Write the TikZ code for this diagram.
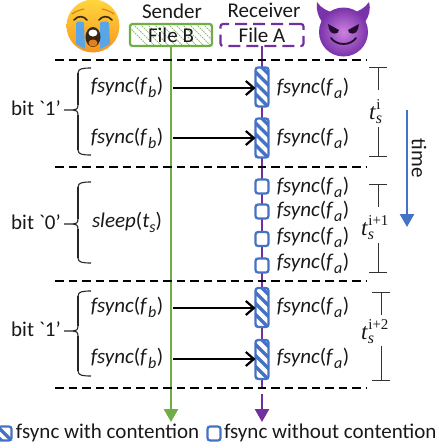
\documentclass[tikz,border=0pt]{standalone}
\usepackage{fontspec}
\setmainfont{Carlito}
\newfontfamily\mathish{Liberation Serif}
\newfontfamily\plainf{Carlito}
\usetikzlibrary{arrows.meta}
\definecolor{gr}{RGB}{112,173,71}
\definecolor{pu}{RGB}{112,48,160}
\definecolor{bl}{RGB}{68,114,196}
\definecolor{tear}{RGB}{88,165,232}
\definecolor{faceT}{RGB}{255,214,60}
\definecolor{faceB}{RGB}{248,150,30}
\definecolor{devil}{RGB}{122,50,170}
\definecolor{devilL}{RGB}{205,130,225}
\newcommand{\sbs}[1]{\raisebox{-0.25em}{\fontsize{16}{16}\selectfont\textit{#1}}}
\newcommand{\fs}[1]{\textit{fsync}(\textit{f}\kern0.5pt\sbs{#1}\kern0.5pt)}
\newcommand{\ts}[1]{{\fontsize{23}{25}\selectfont\mathish\textit{t}}\rlap{\raisebox{-4pt}{\fontsize{16}{16}\selectfont\mathish\textit{s}}}\raisebox{10pt}{\fontsize{15}{15}\selectfont\mathish\kern0.5pt #1}}
\newcommand{\lbrc}[3]{%
  \draw[line width=1.1pt,black!85] (91,#1) .. controls (83,#1) and (78,#1+0.5) .. (78,#1+5);
  \draw[line width=1.1pt,black!85] (78,#1+5) -- (78,#3-5);
  \draw[line width=1.1pt,black!85] (78,#3-5) .. controls (78,#3-1) and (76,#3) .. (73,#3) -- (64,#3);
  \draw[line width=1.1pt,black!85] (73,#3) .. controls (76,#3) and (78,#3+1) .. (78,#3+5);
  \draw[line width=1.1pt,black!85] (78,#3+5) -- (78,#2-5);
  \draw[line width=1.1pt,black!85] (78,#2-5) .. controls (78,#2-0.5) and (83,#2) .. (91,#2);}
\newcommand{\tbar}[5]{\draw[line width=1pt,black!80] (#1-9,#2) -- (#1+9,#2) (#1,#2) -- (#1,#3) (#1,#4) -- (#1,#5) (#1-9,#5) -- (#1+9,#5);}
\tikzset{
  x=1pt,y=-1pt,
  every node/.style={inner sep=0pt,outer sep=0pt,font=\fontsize{21}{23}\selectfont,text=black!90},
  sep line/.style={line width=1.4pt,black,dash pattern=on 8.5pt off 5pt},
  green line/.style={line width=2.6pt,gr},
  purple line/.style={line width=2.6pt,pu},
  call/.style={line width=2.2pt,black,-{Straight Barb[length=8pt,width=14pt,line width=2.2pt]}},
  plainbox/.style={draw=bl,line width=2.2pt,fill=white,rounded corners=2.5pt,minimum width=13pt,minimum height=14pt},
  hatchbox/.style={draw=bl,line width=2.2pt,fill=white,rounded corners=2.5pt,minimum width=13pt,minimum height=39pt,
    path picture={\foreach \k in {-40,-29,...,50}{\draw[bl,line width=3.2pt] ([yshift=\k pt]path picture bounding box.west) ++(-12,-12) -- ++(40,40);}}},
  hatchsmall/.style={draw=bl,line width=2.2pt,fill=white,rounded corners=2.5pt,minimum width=13pt,minimum height=14pt,
    path picture={\foreach \k in {-14,-4,6}{\draw[bl,line width=3.2pt] ([yshift=\k pt]path picture bounding box.west) ++(-8,-8) -- ++(30,30);}}},
}
\begin{document}
\begin{tikzpicture}
\useasboundingbox (0,0) rectangle (439,448);
% crying face
\shade[top color=faceT,bottom color=faceB] (93,26) circle (26.5);
\fill[tear] (76,23) .. controls (76,21) and (84,21) .. (84,23) -- (85,49) -- (76,44) -- cycle;
\fill[tear] (100,23) .. controls (100,21) and (109,21) .. (109,23) -- (110,44) -- (100,49) -- cycle;
\fill[black!70!brown] (93,37) ellipse (7.5 and 10);
\fill[white] (93,33) ellipse (4.5 and 3.5);
\fill[orange!60!brown] (93,43) ellipse (4.5 and 3.5);
\draw[black!70!brown,line width=1.6pt,line cap=round] (74,20) .. controls (78,15) and (84,16) .. (87,20) (99,20) .. controls (102,16) and (108,15) .. (112,20);
\draw[orange!50!brown,line width=1.2pt,line cap=round] (72,14) .. controls (76,11) and (80,10) .. (84,9) (102,9) .. controls (106,10) and (110,11) .. (114,14);
% devil
\fill[devil] (322,22) .. controls (318,16) and (316,10) .. (317,2) .. controls (321,8) and (327,11) .. (334,13) -- cycle;
\fill[devil] (365,22) .. controls (369,16) and (371,10) .. (369,2) .. controls (365,8) and (359,11) .. (353,13) -- cycle;
\shade[inner color=devilL,outer color=devil] (343.5,32) circle (24.5);
\fill[black!70!pu] (328,24) -- (339,30) .. controls (339,35) and (330,35) .. (329,29) -- cycle;
\fill[black!70!pu] (359,24) -- (348,30) .. controls (348,35) and (357,35) .. (358,29) -- cycle;
\draw[black!70!pu,line width=1.8pt,line cap=round] (331,38) .. controls (337,46) and (350,46) .. (356,38);
% texts top
\node (sender) at (172,11) {Sender};
\node (receiver) at (264,10) {Receiver};
\node[draw=gr,line width=2.2pt,fill=white,rounded corners=2.5pt,minimum width=82pt,minimum height=22pt,
  path picture={\foreach \k in {0,7,...,84}{\draw[gr!80,line width=0.9pt,dash pattern=on 1.6pt off 1pt] ([xshift=\k pt]path picture bounding box.north west) ++(-4,0) -- ++(22,22);}}] (fileB) at (171,35) {File B};
\node[draw=pu,line width=2.2pt,rounded corners=2.5pt,dash pattern=on 12pt off 6pt,minimum width=83pt,minimum height=22pt] (fileA) at (262,35) {File A};
% coordinates
\coordinate (gEnd) at (171,422);
\coordinate (pGap) at (262,389);
\coordinate (pRe) at (262,394);
\coordinate (pEnd) at (262,422);
% lifelines
\draw[green line,-{Triangle[length=13pt,width=14pt]}] (fileB.south) -- (gEnd);
\draw[purple line] (fileA.south) -- (pGap);
\draw[purple line,-{Triangle[length=13pt,width=14pt]}] (pRe) -- (pEnd);
\foreach \y/\n in {60/a,167/b,281/c,388/d}{
  \coordinate (sl\n) at (55,\y); \coordinate (sr\n) at (366,\y);
  \draw[sep line] (sl\n) -- (sr\n);
}
% boxes
\node[hatchbox] (h1) at (262,87) {};
\node[hatchbox] (h2) at (262,138) {};
\node[plainbox] (p1) at (262,186.5) {};
\node[plainbox] (p2) at (262,211.5) {};
\node[plainbox] (p3) at (262,239) {};
\node[plainbox] (p4) at (262,265.5) {};
\node[hatchbox] (h3) at (262,307.5) {};
\node[hatchbox] (h4) at (262,359.5) {};
% left labels
\node (sb1) at (127,87) {\fs{b}};
\node (sb2) at (127,138) {\fs{b}};
\node (sl) at (127,222) {\textit{sleep}(\textit{t}\sbs{s})};
\node (sb3) at (127,307) {\fs{b}};
\node (sb4) at (127,358) {\fs{b}};
% arrows
\coordinate (g1) at (173,88); \coordinate (g2) at (173,138); \coordinate (g3) at (173,308); \coordinate (g4) at (173,359);
\draw[call] (g1) -- (h1.west |- g1);
\draw[call] (g2) -- (h2.west |- g2);
\draw[call] (g3) -- (h3.west |- g3);
\draw[call] (g4) -- (h4.west |- g4);
% right labels
\node (a1) at (313,88) {\fs{a}};
\node (a2) at (313,138) {\fs{a}};
\node (a3) at (313,187) {\fs{a}};
\node (a4) at (313,211) {\fs{a}};
\node (a5) at (313,237) {\fs{a}};
\node (a6) at (313,263) {\fs{a}};
\node (a7) at (313,307) {\fs{a}};
\node (a8) at (313,358) {\fs{a}};
% bit labels and braces
\node (bit1) at (36,108) {bit {\plainf `}1’};
\node (bit2) at (36,222) {bit {\plainf `}0’};
\node (bit3) at (36,329) {bit {\plainf `}1’};
\lbrc{68}{155}{110}
\lbrc{182}{263}{224}
\lbrc{291}{376}{331}
% period bars
\tbar{378}{67}{90}{127}{156}
\tbar{378}{184}{207}{243}{272}
\tbar{381}{292}{315}{346}{380}
\node[anchor=base west] (t1) at (369,119) {\ts{i}};
\node[anchor=base west] (t2) at (361,235) {\ts{i+1}};
\node[anchor=base west] (t3) at (361,339) {\ts{i+2}};
% time
\coordinate (tA) at (407,110); \coordinate (tB) at (407,227);
\draw[line width=2.6pt,bl,-{Triangle[length=13pt,width=14pt]}] (tA) -- (tB);
\node[rotate=-90] (time) at (419,158) {time};
% legend
\node[hatchsmall] (lh) at (5,433.5) {};
\node[anchor=west] (lt1) at (16,433) {fsync with contention};
\node[plainbox] (lp) at (214,433.5) {};
\node[anchor=west] (lt2) at (224,433) {fsync without contention};
\end{tikzpicture}
\end{document}
